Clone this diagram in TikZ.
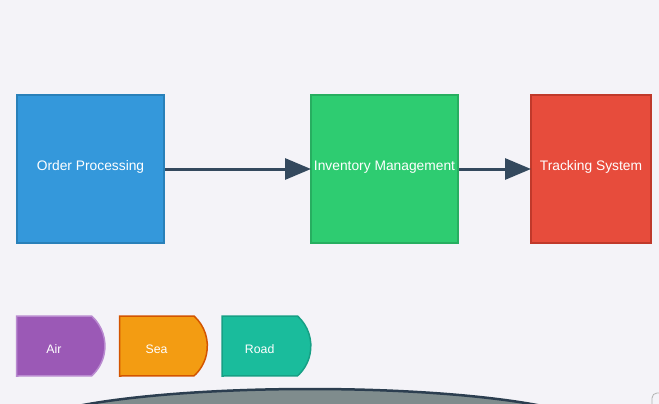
\documentclass[tikz,border=0pt]{standalone}
\usepackage{fontspec}
\setmainfont{Liberation Sans}
\usetikzlibrary{arrows.meta,shapes.geometric}
\definecolor{bg}{HTML}{F4F3F8}
\definecolor{opfill}{HTML}{3498DB}\definecolor{opline}{HTML}{2980B9}
\definecolor{imfill}{HTML}{2ECC71}\definecolor{imline}{HTML}{27AE60}
\definecolor{tsfill}{HTML}{E74C3C}\definecolor{tsline}{HTML}{C0392B}
\definecolor{airfill}{HTML}{9B59B6}\definecolor{airline}{HTML}{B98AD0}
\definecolor{seafill}{HTML}{F39C12}\definecolor{sealine}{HTML}{D35400}
\definecolor{roadfill}{HTML}{1ABC9C}\definecolor{roadline}{HTML}{16A085}
\definecolor{arrowc}{HTML}{34495E}
\definecolor{ellfill}{HTML}{7F8C8D}\definecolor{ellline}{HTML}{2C3E50}
\tikzset{
  procbox/.style={rectangle, line width=2pt, minimum width=147pt, minimum height=147pt,
    inner sep=0pt, text=white, text height=10.1pt, text depth=6.8pt, font=\fontsize{13.8}{16}\selectfont},
  flowarrow/.style={line width=3pt, draw=arrowc, -{Triangle[length=26pt,width=21pt]}, shorten >=-1pt},
  delayshape/.style={line width=1.5pt},
  modelabel/.style={text=white, inner sep=0pt, font=\fontsize{12.3}{14}\selectfont},
}
\begin{document}
\begin{tikzpicture}[x=1pt,y=-1pt]
\fill[bg] (0,0) rectangle (659,404);
\useasboundingbox (0,0) rectangle (659,404);
\clip (0,0) rectangle (659,404);
% main process boxes
\node[procbox, fill=opfill, draw=opline] (op) at (90.5,169) {Order Processing};
\node[procbox, fill=imfill, draw=imline] (im) at (384.5,169) {Inventory Management};
\node[procbox, fill=tsfill, draw=tsline, minimum width=120pt] (ts) at (591,169) {Tracking System};
\draw[flowarrow] (op.east) -- (im.west);
\draw[flowarrow] (im.east) -- (ts.west);
% transport modes (delay shapes)
\draw[delayshape, fill=airfill, draw=airline] (16.5,316) -- (91.6,316) arc[start angle=48,end angle=-48,radius=40.3pt] -- (16.5,376) -- cycle;
\node[modelabel] (air) at (54,349.5) {Air};
\draw[delayshape, fill=seafill, draw=sealine] (119.5,316) -- (194,316) arc[start angle=48,end angle=-48,radius=40.3pt] -- (119.5,376) -- cycle;
\node[modelabel] (sea) at (156.5,349.5) {Sea};
\draw[delayshape, fill=roadfill, draw=roadline] (222,316) -- (297.5,316) arc[start angle=48,end angle=-48,radius=40.3pt] -- (222,376) -- cycle;
\node[modelabel] (road) at (259.7,349.5) {Road};
% bottom ellipse
\node[ellipse, draw=ellline, fill=ellfill, line width=2.5pt, minimum width=578pt, minimum height=84pt, inner sep=0pt] (cust) at (310,431) {};
% partially visible rounded box at bottom right
\draw[gray!60, line width=0.8pt, rounded corners=5pt] (652,393) rectangle (720,460);
\end{tikzpicture}
\end{document}
